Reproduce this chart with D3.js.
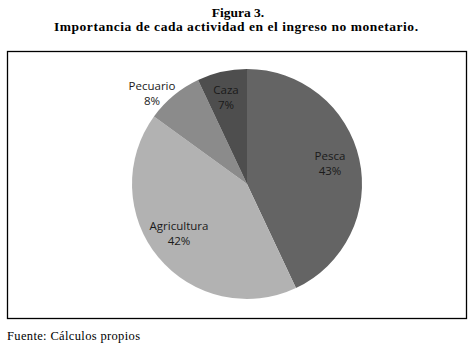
<!DOCTYPE html>
<meta charset="utf-8">
<script src="https://d3js.org/d3.v7.min.js"></script>
<style>
  body { margin: 0; background: #fff; }
</style>
<body>
<div id="chart"></div>
<script>
// chart data
var categories = ["Pesca", "Agricultura", "Pecuario", "Caza"];
var values = [43, 42, 8, 7];
var colors = ["#646464", "#b2b2b2", "#8b8b8b", "#4e4e4e"];
var labelPos = [[330, 160], [179, 230], [152, 90], [226, 94]];

var W = 476, H = 346;
var svg = d3.select("#chart").append("svg")
    .attr("width", W)
    .attr("height", H);

// title
svg.append("text")
    .attr("x", 238).attr("y", 17)
    .attr("text-anchor", "middle")
    .style("font-family", "'Liberation Serif', 'Times New Roman', serif")
    .style("font-weight", "bold")
    .style("font-size", "13.5px")
    .text("Figura 3.");
svg.append("text")
    .attr("x", 236).attr("y", 31)
    .attr("text-anchor", "middle")
    .attr("textLength", 364)
    .style("font-family", "'Liberation Serif', 'Times New Roman', serif")
    .style("font-weight", "bold")
    .style("font-size", "13.5px")
    .text("Importancia de cada actividad en el ingreso no monetario.");

// frame
svg.append("rect")
    .attr("x", 7.5).attr("y", 51.5)
    .attr("width", 459).attr("height", 267)
    .attr("fill", "none")
    .attr("stroke", "#000")
    .attr("stroke-width", 1.3);

// pie
var cx = 247, cy = 184, r = 115;
var pie = d3.pie().sort(null).value(function(d) { return d; });
var arc = d3.arc().innerRadius(0).outerRadius(r);
var g = svg.append("g").attr("transform", "translate(" + cx + "," + cy + ")");

g.selectAll("path")
  .data(pie(values))
  .enter()
  .append("path")
    .attr("d", arc)
    .attr("fill", function(d, i) { return colors[i]; });

// labels
var lab = svg.selectAll(".lab")
  .data(categories)
  .enter()
  .append("text")
    .attr("class", "lab")
    .attr("text-anchor", "middle")
    .attr("x", function(d, i) { return labelPos[i][0]; })
    .attr("y", function(d, i) { return labelPos[i][1]; })
    .style("font-family", "'Open Sans', sans-serif")
    .style("font-size", "11.5px")
    .style("fill", "#1a1a1a");
lab.append("tspan").text(function(d) { return d; });
lab.append("tspan")
    .attr("x", function(d, i) { return labelPos[i][0]; })
    .attr("dy", 15)
    .text(function(d, i) { return values[i] + "%"; });

// footer
svg.append("text")
    .attr("x", 7).attr("y", 340)
    .attr("textLength", 133)
    .style("font-family", "'Liberation Serif', 'Times New Roman', serif")
    .style("font-size", "12.5px")
    .text("Fuente: Cálculos propios");
</script>
</body>
